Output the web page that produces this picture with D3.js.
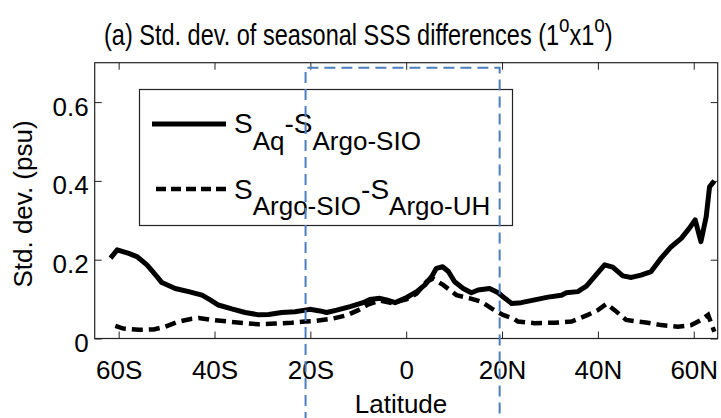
<!DOCTYPE html>
<html lang="en">
<head>
  <meta charset="UTF-8">
  <title>Std. dev. of seasonal SSS differences</title>
  <script src="https://cdn.jsdelivr.net/npm/d3@7"></script>
  <style>
    body { margin: 0; background: #fff; }
    text { font-family: "Liberation Sans", Arial, sans-serif; fill: #000; }
  </style>
</head>
<body>
  <script>
    var w = 721, h = 418
    // latitude ticks and labels
    var latTicks = [-60, -40, -20, 0, 20, 40, 60]
    var latLabels = ['60S', '40S', '20S', '0', '20N', '40N', '60N']
    var sdTicks = [0, 0.2, 0.4, 0.6]
    var sdLabels = ['0', '0.2', '0.4', '0.6']

    // S_Aq - S_Argo-SIO (solid)
    var latAq = [-61.7, -60.3, -57.9, -56.2, -54.1, -52, -51, -48.2, -45.4, -42.6, -40.9, -39.2, -36.4, -33.6, -30.8,
      -28.7, -26, -23.2, -20.1, -18, -16.6, -14.5, -11.7, -9, -7.6, -5.5, -4.1, -2.3, 0.1, 2.2, 3.9, 5.3, 6.3, 7.6,
      8.8, 10.1, 11.9, 13.6, 15, 17.4, 19.2, 20.6, 22, 24, 26.8, 29.6, 32.4, 33.4, 35.8, 37.6, 39.3, 41.4, 43.1,
      45.2, 47, 49, 51.1, 53.2, 55.3, 57.4, 59.1, 60.3, 61.5, 62.6, 63.3, 64.3]
    var sdAq = [0.204, 0.225, 0.216, 0.208, 0.187, 0.157, 0.142, 0.127, 0.119, 0.110, 0.098, 0.085, 0.075, 0.066, 0.060,
      0.061, 0.066, 0.068, 0.074, 0.070, 0.066, 0.072, 0.081, 0.091, 0.099, 0.102, 0.098, 0.091, 0.104, 0.119, 0.136, 0.157, 0.178, 0.182,
      0.170, 0.144, 0.127, 0.116, 0.123, 0.127, 0.116, 0.102, 0.089, 0.091, 0.098, 0.105, 0.110, 0.116, 0.119, 0.133, 0.157, 0.187, 0.181,
      0.159, 0.155, 0.161, 0.170, 0.204, 0.233, 0.254, 0.280, 0.301, 0.246, 0.309, 0.385, 0.400]

    // S_Argo-SIO - S_Argo-UH (dashed)
    var latUH = [-60.7, -59, -55.8, -52.7, -50.3, -47.5, -44.7, -43.3, -40.6, -37.1, -33.6, -30.8, -27.4, -23.9, -21.1,
      -18.7, -15.2, -12.4, -10, -8, -5.5, -3, 0, 2.2, 4.3, 5.6, 7.7, 10.5, 13.3, 15.7, 18.1, 20.2, 22.3, 23.3, 26.8,
      30.9, 34.5, 37.9, 40, 41.8, 43.5, 45.9, 48.3, 50.4, 53.2, 56.7, 59.5, 61.5, 63, 64.3]
    var sdUH = [0.032, 0.025, 0.022, 0.023, 0.030, 0.043, 0.050, 0.052, 0.047, 0.043, 0.039, 0.036, 0.038, 0.040, 0.043,
      0.045, 0.051, 0.059, 0.072, 0.086, 0.096, 0.090, 0.099, 0.114, 0.145, 0.152, 0.136, 0.110, 0.102, 0.093, 0.074, 0.060, 0.051, 0.043, 0.039,
      0.040, 0.043, 0.060, 0.072, 0.088, 0.072, 0.047, 0.043, 0.040, 0.034, 0.030, 0.034, 0.047, 0.060, 0.017]

    // blue box around the tropics
    var boxLat = [-21, 19.5]
    var boxTop = 0.687

    var xScale = d3.scaleLinear().domain([-65, 65]).range([94.7, 717.7])
    var yScale = d3.scaleLinear().domain([0, 0.7]).range([338.5, 62.7])

    var svg = d3.select('body').append('svg').attr('width', w).attr('height', h)

    // title (squeezed horizontally like the original)
    var title = svg.append('text').attr('font-size', 30)
    title.append('tspan').text('(a) Std. dev. of seasonal SSS differences (1')
    title.append('tspan').attr('font-size', 24).attr('dy', -13).text('o')
    title.append('tspan').attr('dy', 13).text('x1')
    title.append('tspan').attr('font-size', 24).attr('dy', -13).text('o')
    title.append('tspan').attr('dy', 13).text(')')
    var tw = title.node().getBBox().width
    title.attr('transform', 'translate(104,45) scale(' + (509 / tw) + ',1)')

    var x0 = xScale.range()[0], x1 = xScale.range()[1]
    var y0 = yScale.range()[0], y1 = yScale.range()[1]

    // axes, ticks pointing in
    var fmtX = function (d, i) { return latLabels[latTicks.indexOf(d)] }
    var fmtY = function (d) { return sdLabels[sdTicks.indexOf(d)] }
    var gx = svg.append('g').attr('transform', 'translate(0,' + y0 + ')')
      .call(d3.axisBottom(xScale).tickValues(latTicks).tickFormat(fmtX).tickSizeInner(-7).tickSizeOuter(0))
    gx.selectAll('text').attr('y', 40).attr('dy', null).attr('font-size', 26)
    svg.append('g').attr('transform', 'translate(0,' + y1 + ')')
      .call(d3.axisTop(xScale).tickValues(latTicks).tickFormat('').tickSizeInner(-7).tickSizeOuter(0))
    var gy = svg.append('g').attr('transform', 'translate(' + x0 + ',0)')
      .call(d3.axisLeft(yScale).tickValues(sdTicks).tickFormat(fmtY).tickSizeInner(-7).tickSizeOuter(0).tickPadding(6))
    gy.selectAll('text').attr('dy', '0.5em').attr('font-size', 26)
    svg.append('g').attr('transform', 'translate(' + x1 + ',0)')
      .call(d3.axisRight(yScale).tickValues(sdTicks).tickFormat('').tickSizeInner(-7).tickSizeOuter(0))
    svg.selectAll('.domain').remove()
    svg.selectAll('.tick line').attr('stroke', '#222')
    svg.append('rect').attr('x', x0).attr('y', y1).attr('width', x1 - x0).attr('height', y0 - y1)
      .attr('fill', 'none').attr('stroke', '#222').attr('stroke-width', 1.2)

    // axis labels
    svg.append('text').attr('x', 401).attr('y', 413).attr('text-anchor', 'middle').attr('font-size', 26).text('Latitude')
    svg.append('text').attr('transform', 'translate(32,204) rotate(-90)').attr('text-anchor', 'middle')
      .attr('font-size', 26).text('Std. dev. (psu)')

    // curves
    var line = d3.line().x(function (d) { return xScale(d[0]) }).y(function (d) { return yScale(d[1]) })
    svg.append('path').datum(d3.zip(latUH, sdUH)).attr('d', line).attr('fill', 'none')
      .attr('stroke', '#000').attr('stroke-width', 4.5).attr('stroke-dasharray', '11,6')
    svg.append('path').datum(d3.zip(latAq, sdAq)).attr('d', line).attr('fill', 'none')
      .attr('stroke', '#000').attr('stroke-width', 5).attr('stroke-linejoin', 'round')

    // legend
    var lg = svg.append('g')
    lg.append('rect').attr('x', 139.5).attr('y', 89.5).attr('width', 373).attr('height', 136)
      .attr('fill', '#fff').attr('stroke', '#222').attr('stroke-width', 1.2)
    lg.append('line').attr('x1', 152).attr('x2', 226).attr('y1', 124).attr('y2', 124)
      .attr('stroke', '#000').attr('stroke-width', 5)
    lg.append('line').attr('x1', 156).attr('x2', 226).attr('y1', 189).attr('y2', 189)
      .attr('stroke', '#000').attr('stroke-width', 4.5).attr('stroke-dasharray', '10,5')
    var t1 = lg.append('text').attr('x', 234).attr('y', 133).attr('font-size', 28)
    t1.append('tspan').text('S')
    t1.append('tspan').attr('font-size', 26).attr('dy', 17).text('Aq')
    t1.append('tspan').attr('dy', -17).text('-S')
    t1.append('tspan').attr('font-size', 26).attr('dy', 17).text('Argo-SIO')
    var t2 = lg.append('text').attr('x', 234).attr('y', 199).attr('font-size', 28)
    t2.append('tspan').text('S')
    t2.append('tspan').attr('font-size', 26).attr('dy', 16).text('Argo-SIO')
    t2.append('tspan').attr('dy', -16).text('-S')
    t2.append('tspan').attr('font-size', 26).attr('dy', 16).text('Argo-UH')

    // blue dashed box over everything
    var bx0 = xScale(boxLat[0]), bx1 = xScale(boxLat[1]), by = yScale(boxTop)
    svg.append('path').attr('d', 'M' + bx0 + ',' + (h + 5) + 'V' + by + 'H' + bx1 + 'V' + (h + 5))
      .attr('fill', 'none').attr('stroke', '#4a7ebf').attr('stroke-width', 2).attr('stroke-dasharray', '11,6')
  </script>
</body>
</html>
